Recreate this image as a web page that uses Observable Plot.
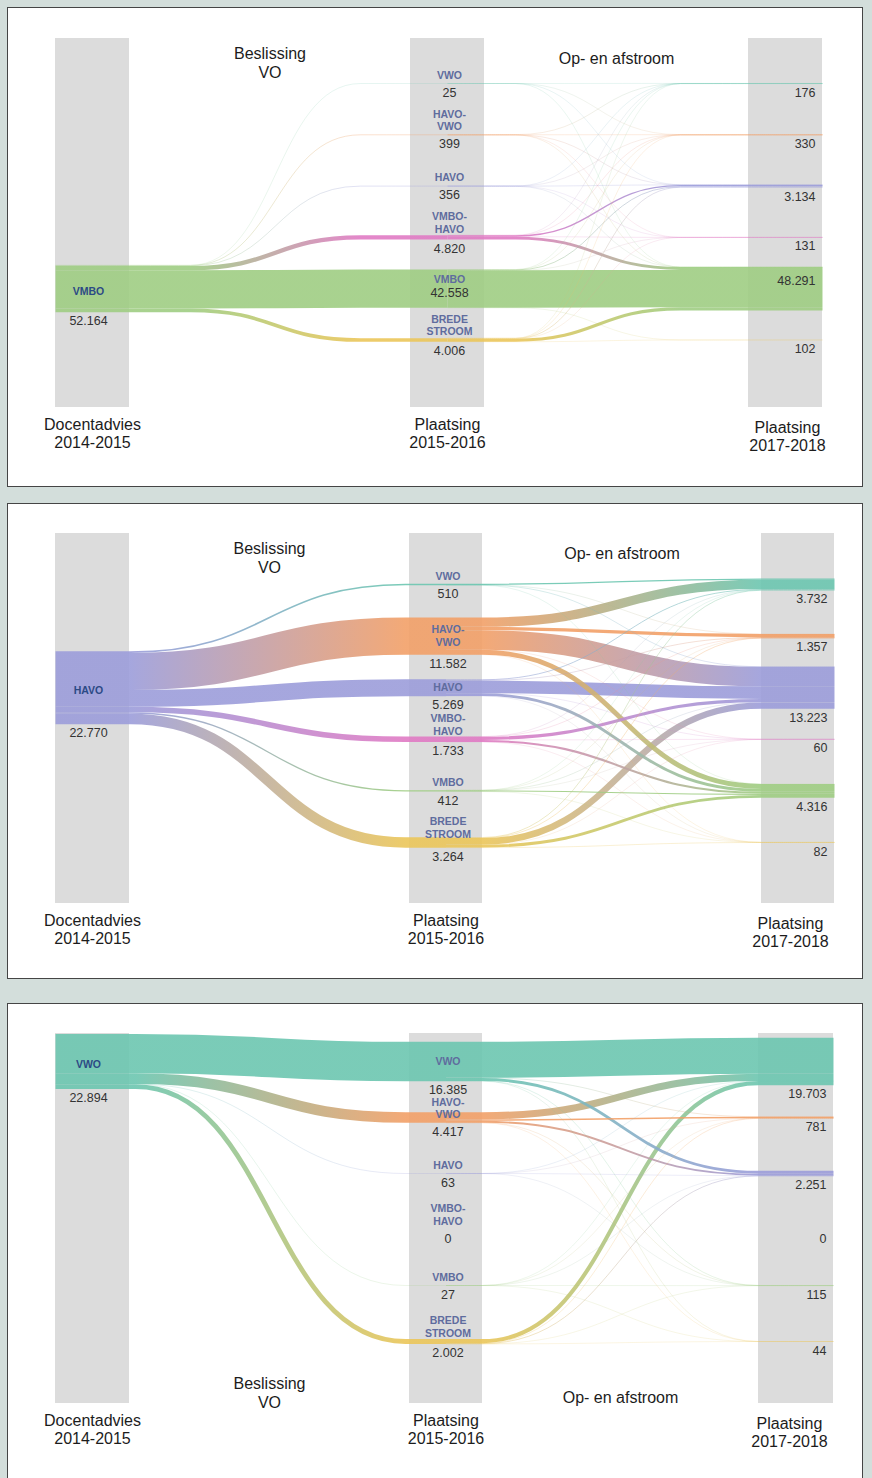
<!DOCTYPE html>
<html><head><meta charset="utf-8">
<script src="https://cdn.jsdelivr.net/npm/d3@7"></script>
<script src="https://cdn.jsdelivr.net/npm/@observablehq/plot@0.6"></script>
<style>
html,body{margin:0;padding:0;background:#d3dedb;}
body{position:relative;width:872px;height:1478px;overflow:hidden;font-family:"Liberation Sans",Arial,sans-serif;}
.box{position:absolute;left:7px;width:854px;background:#fff;border:1px solid #454545;}
.panel{position:absolute;left:0;}
</style></head><body>
<script>
// ---------- DATA ----------
const categories = ["VWO", "HAVO-VWO", "HAVO", "VMBO-HAVO", "VMBO", "BREDE STROOM"];
const categoryColors = ["#6cc6b0", "#f2a068", "#9c9dda", "#e07bc4", "#9fcd83", "#ebc65a"];

const adviceGroups = ["VMBO", "HAVO", "VWO"];
const adviceTotals = [52164, 22770, 22894];

// placement 2015-2016 (middle column), per advice group
const vmboPlacement2015 = [25, 399, 356, 4820, 42558, 4006];
const havoPlacement2015 = [510, 11582, 5269, 1733, 412, 3264];
const vwoPlacement2015  = [16385, 4417, 63, 0, 27, 2002];

// placement 2017-2018 (right column)
const vmboPlacement2017 = [176, 330, 3134, 131, 48291, 102];
const havoPlacement2017 = [3732, 1357, 13223, 60, 4316, 82];
const vwoPlacement2017  = [19703, 781, 2251, 0, 115, 44];

// estimated flows 2015-2016 (rows) -> 2017-2018 (columns)
const vmboFlows = [
  [10, 5, 8, 0, 2, 0],
  [100, 120, 150, 2, 27, 0],
  [30, 60, 200, 3, 63, 0],
  [20, 80, 1500, 80, 3140, 0],
  [10, 40, 800, 30, 41650, 28],
  [6, 25, 476, 16, 3409, 74]
];
const havoFlows = [
  [380, 30, 90, 0, 10, 0],
  [2900, 1050, 6100, 10, 1520, 2],
  [280, 120, 3950, 20, 895, 4],
  [20, 40, 1000, 20, 650, 3],
  [2, 7, 60, 3, 335, 5],
  [150, 110, 2023, 7, 906, 68]
];
const vwoFlows = [
  [15000, 100, 1200, 0, 60, 25],
  [3000, 600, 780, 0, 30, 7],
  [20, 5, 30, 0, 8, 0],
  [0, 0, 0, 0, 0, 0],
  [3, 1, 6, 0, 15, 2],
  [1680, 75, 235, 0, 2, 10]
];

const stageLabels = [["Docentadvies", "2014-2015"], ["Plaatsing", "2015-2016"], ["Plaatsing", "2017-2018"]];
const transitionLabels = [["Beslissing", "VO"], ["Op- en afstroom"]];

const placement2015 = [vmboPlacement2015, havoPlacement2015, vwoPlacement2015];
const placement2017 = [vmboPlacement2017, havoPlacement2017, vwoPlacement2017];
const flowMatrices = [vmboFlows, havoFlows, vwoFlows];

// ---------- LAYOUT ----------
const layouts = [
  {boxTop: 7, boxHeight: 478, row0: 83, spacing: 51.3, k: 0.0009,
   bars: [[55, 129], [410, 484], [748, 822]], barTop: 38, barBottom: 407,
   curveA: [190, 360], curveB: [515, 680], titles: "top", rightStageX: 787},
  {boxTop: 503, boxHeight: 474, row0: 584, spacing: 51.6, k: 0.0032,
   bars: [[55, 129], [409, 482], [761, 834]], barTop: 533, barBottom: 903,
   curveA: [130, 405], curveB: [482, 761], titles: "top", rightStageX: 790},
  {boxTop: 1003, boxHeight: 490, row0: 1061, spacing: 56, k: 0.0024,
   bars: [[55, 129], [409, 482], [758, 833]], barTop: 1033, barBottom: 1403,
   curveA: [135, 405], curveB: [482, 758], titles: "bottom", rightStageX: 789}
];

const fmt = d3.formatLocale({decimal: ",", thousands: ".", grouping: [3], currency: ["", ""]}).format(",d");
const nameLines = c => c.includes("-") ? [c.slice(0, c.indexOf("-") + 1), c.slice(c.indexOf("-") + 1)]
                     : c.includes(" ") ? c.split(" ") : [c];
const LH = 12.5;
const SVGNS = "http://www.w3.org/2000/svg";
const FONT = "Liberation Sans, Arial, sans-serif";

layouts.forEach((L, p) => {
  const mid = placement2015[p], right = placement2017[p], flows = flowMatrices[p];
  const adviceRow = categories.indexOf(adviceGroups[p]);
  const total = adviceTotals[p];
  const s = L.spacing, k = L.k;
  const toRow = px => (px - L.row0) / s;
  const midX = (L.bars[1][0] + L.bars[1][1]) / 2;

  // links
  const links = [];
  let cum = -total * k / 2;
  mid.forEach((v, j) => {
    if (!v) return;
    const w = v * k, ys = adviceRow + (cum + w / 2) / s;
    cum += w;
    links.push({w, pts: [[L.bars[0][0], ys], [L.curveA[0], ys], [L.curveA[1], j], [midX, j]],
      c0: categoryColors[adviceRow], c1: categoryColors[j], gx: L.curveA});
  });
  const colSum = categories.map((_, j) => d3.sum(flows, r => r[j]));
  const inCum = colSum.map(v => -v * k / 2);
  flows.forEach((row, i) => {
    let out = -mid[i] * k / 2;
    row.forEach((v, j) => {
      if (!v) return;
      const w = v * k;
      const ys = i + (out + w / 2) / s; out += w;
      const yt = j + (inCum[j] + w / 2) / s; inCum[j] += w;
      links.push({w, pts: [[midX, ys], [L.curveB[0], ys], [L.curveB[1], yt], [L.bars[2][1], yt]],
        c0: categoryColors[i], c1: categoryColors[j], gx: L.curveB});
    });
  });
  links.forEach((l, n) => l.id = `g${p}-${n}`);

  // middle labels
  const midNames = [], midValues = [], insideRows = new Set();
  let prev = -Infinity;
  mid.forEach((v, i) => {
    const h = v * k / 2, lines = nameLines(categories[i]), n = lines.length, r = i * s;
    let ins = false;
    if (h >= 8 && i < mid.length - 1) {
      const hn = mid[i + 1] * k / 2, nn = nameLines(categories[i + 1]).length;
      const nextTop = hn >= 8 ? s - (nn - 1) / 2 * LH : s - 8 - (nn - 1) * LH;
      ins = nextTop - (h + 9) < 5;
    }
    let ys, vy;
    if (ins) { insideRows.add(i); ys = lines.map((_, j) => r - 9 - (n - 1 - j) * LH); vy = r + 4; }
    else if (h >= 8) { ys = lines.map((_, j) => r + (j - (n - 1) / 2) * LH); vy = r + h + 9; }
    else {
      let first = r - 8 - (n - 1) * LH;
      first += Math.max(0, prev + 12 - first);
      ys = lines.map((_, j) => first + j * LH);
      vy = Math.max(r + h + 9, ys[n - 1] + 13);
    }
    prev = vy;
    lines.forEach((t, j) => midNames.push({text: t, y: ys[j] / s}));
    midValues.push({text: fmt(v), y: vy / s});
  });
  const rightValues = right.map((v, j) => ({text: fmt(v),
    y: (insideRows.has(j) ? j * s - 8 : j * s + v * k / 2 + 9) / s}));
  const leftName = [{text: adviceGroups[p], y: adviceRow + 3 / s}];
  const leftValue = [{text: fmt(total), y: adviceRow + (total * k / 2 + 9) / s}];

  // stage + transition labels
  const stageX = [(L.bars[0][0] + L.bars[0][1]) / 2, (L.bars[1][0] + L.bars[1][1]) / 2, L.rightStageX];
  const stageText = [];
  stageLabels.forEach((lines, b) => lines.forEach((t, j) => stageText.push({
    text: t, x: stageX[b],
    y: toRow(L.barBottom + 17 + (b === 2 ? 3 : 0) + j * 18)})));
  const tx = [(L.bars[0][1] + L.bars[1][0]) / 2, (L.bars[1][1] + L.bars[2][0]) / 2];
  const transText = [];
  transitionLabels.forEach((lines, t) => lines.forEach((txt, j) => {
    let py;
    if (L.titles === "top") py = t === 0 ? L.barTop + 15 + j * 19 : L.barTop + 20;
    else py = t === 0 ? L.barBottom - 20 + j * 19 : L.barBottom - 6;
    transText.push({text: txt, x: tx[t], y: toRow(py)});
  }));

  const H = L.boxHeight + 2;
  const svg = Plot.plot({
    width: 872, height: H, margin: 0,
    style: {background: "transparent", fontFamily: FONT, overflow: "visible"},
    x: {domain: [0, 872], range: [0, 872], axis: null},
    y: {domain: [0, 5], range: [L.row0 - L.boxTop, L.row0 - L.boxTop + 5 * s], axis: null},
    marks: [
      Plot.rect(L.bars, {x1: d => d[0], x2: d => d[1], y1: () => toRow(L.barTop), y2: () => toRow(L.barBottom), fill: "#dcdcdc"}),
      ...links.slice().sort((a, b) => b.w - a.w).map(l => Plot.line(l.pts, {
        x: d => d[0], y: d => d[1], curve: "bump-x",
        stroke: `url(#${l.id})`, strokeWidth: Math.max(l.w, 0.9),
        strokeOpacity: l.w >= 1 ? 0.9 : 0.18 + 0.5 * l.w, strokeLinecap: "butt"})),
      Plot.text(midNames, {x: () => midX + 2, y: "y", text: "text", fontSize: 10.5, fontWeight: "bold", fill: "#5f6c9e"}),
      Plot.text(midValues, {x: () => midX + 2, y: "y", text: "text", fontSize: 12.5, fill: "#333"}),
      Plot.text(rightValues, {x: () => L.bars[2][1] - 7, y: "y", text: "text", fontSize: 12.5, fill: "#333", textAnchor: "end"}),
      Plot.text(leftName, {x: () => 88, y: "y", text: "text", fontSize: 10.5, fontWeight: "bold", fill: "#2c4a85"}),
      Plot.text(leftValue, {x: () => 88, y: "y", text: "text", fontSize: 12.5, fill: "#333"}),
      Plot.text(stageText, {x: "x", y: "y", text: "text", fontSize: 16, fill: "#1c1c1c"}),
      Plot.text(transText, {x: "x", y: "y", text: "text", fontSize: 16, fill: "#1c1c1c"})
    ]
  });

  const defs = document.createElementNS(SVGNS, "defs");
  links.forEach(l => {
    const g = document.createElementNS(SVGNS, "linearGradient");
    g.setAttribute("id", l.id);
    g.setAttribute("gradientUnits", "userSpaceOnUse");
    g.setAttribute("x1", l.gx[0]); g.setAttribute("x2", l.gx[1]);
    g.setAttribute("y1", 0); g.setAttribute("y2", 0);
    [[0, l.c0], [1, l.c1]].forEach(([o, c]) => {
      const st = document.createElementNS(SVGNS, "stop");
      st.setAttribute("offset", o); st.setAttribute("stop-color", c);
      g.appendChild(st);
    });
    defs.appendChild(g);
  });
  svg.insertBefore(defs, svg.firstChild);

  const box = document.createElement("div");
  box.className = "box";
  box.style.top = L.boxTop + "px";
  box.style.height = L.boxHeight + "px";
  document.body.appendChild(box);
  const holder = document.createElement("div");
  holder.className = "panel";
  holder.style.top = L.boxTop + "px";
  holder.appendChild(svg);
  document.body.appendChild(holder);
});
</script></body></html>
